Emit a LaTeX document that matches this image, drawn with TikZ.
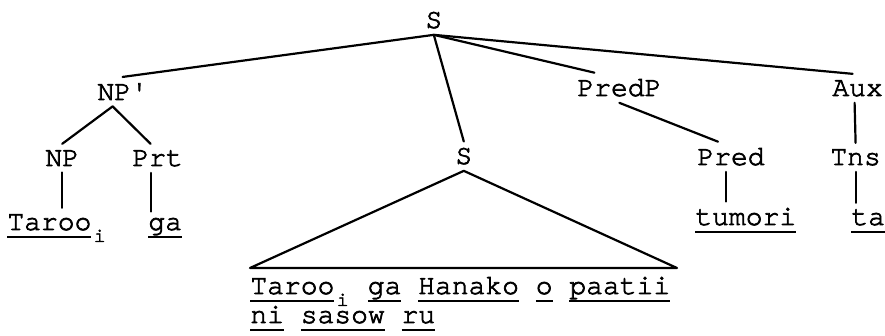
\documentclass[tikz,border=0pt]{standalone}
\usepackage{fontspec}
\setmonofont[FakeBold=2.5]{TeX Gyre Cursor}
% underline at a fixed depth, through the descenders
\newsavebox\ulbox
\newcommand\ul[1]{\sbox\ulbox{#1}\rlap{\rule[-3.8pt]{\wd\ulbox}{0.9pt}}\usebox\ulbox}
% index under a word, one cell wide
\newcommand\idx[1]{\makebox[8.3pt][c]{\raisebox{-6pt}{\fontsize{10}{10}\selectfont #1}}}
\tikzset{
  label node/.style={font=\ttfamily\fontsize{14}{16}\selectfont, inner xsep=0pt, inner ysep=3pt, anchor=base west},
  branch/.style={line width=1.1pt, line cap=round, line join=round},
}

\begin{document}
\begin{tikzpicture}[x=0.5pt, y=-0.5pt]
  \useasboundingbox (0,0) rectangle (885,336);
  % categories, placed at (left edge, baseline)
  \node[label node] (root)  at (425, 28) {S};
  \node[label node] (npbar) at ( 97,100) {NP'};
  \node[label node] (predp) at (577, 96) {PredP};
  \node[label node] (aux)   at (832, 96) {Aux};
  \node[label node] (np)    at ( 45,166) {NP};
  \node[label node] (prt)   at (132,166) {Prt};
  \node[label node] (emb)   at (455,164) {S};
  \node[label node] (pred)  at (697,165) {Pred};
  \node[label node] (tns)   at (830,165) {Tns};
  % words
  \node[label node] (taroo)  at (  7,230) {\ul{Taroo}\idx{i}};
  \node[label node] (ga)     at (148,230) {\ul{ga}};
  \node[label node] (tumori) at (695,225) {\ul{tumori}};
  \node[label node] (ta)     at (851,225) {\ul{ta}};
  \node[label node] (yielda) at (250,294) {\ul{Taroo}\idx{i} \ul{ga} \ul{Hanako} \ul{o} \ul{paatii}};
  \node[label node] (yieldb) at (250,323) {\ul{ni} \ul{sasow} \ul{ru}};
  % top level
  \draw[branch] (root.south) -- (npbar.north);
  \draw[branch] (root.south) -- (emb.north);
  \draw[branch] (root.south) -- ([xshift=-12.5pt]predp.north);
  \draw[branch] (root.south) -- ([xshift=-2.5pt]aux.north);
  \draw[branch] ([xshift=-5pt]npbar.south) -- (np.north);
  \draw[branch] ([xshift=-5pt]npbar.south) -- ([xshift=-3.5pt]prt.north);
  \draw[branch] (predp.south) -- ([xshift=-6.5pt]pred.north);
  \draw[branch] ([xshift=-1.5pt]aux.south) -- (tns.north);
  % lexical lines
  \draw[branch] (np.south) -- (np.south |- taroo.north);
  \draw[branch] ([xshift=-3.5pt]prt.south) coordinate (p) -- (p |- ga.north);
  \draw[branch] ([xshift=-2.5pt]pred.south) coordinate (q) -- (q |- tumori.north);
  \draw[branch] (tns.south) -- (tns.south |- ta.north);
  % roof over the embedded clause
  \coordinate (roofl) at (250,268);
  \coordinate (roofr) at (677,268);
  \draw[branch] (roofl) -- (emb.south) -- (roofr) -- cycle;
\end{tikzpicture}
\end{document}
